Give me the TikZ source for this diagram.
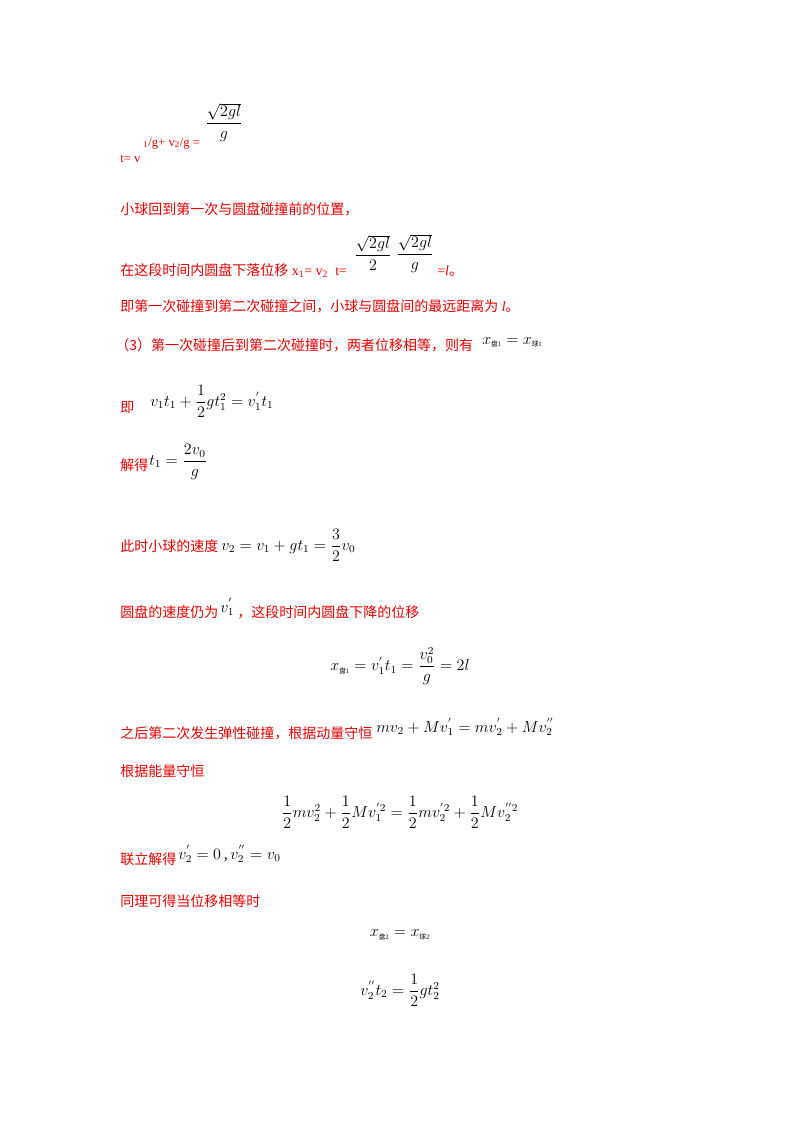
\documentclass[tikz,border=0pt]{standalone}
\usepackage{amsmath}
\usepackage{fontspec}
\setmainfont{Liberation Serif}
\newfontfamily\cjk{Noto Sans CJK SC}
\usetikzlibrary{positioning}
\newcommand{\zh}[1]{{\cjk #1}}
\colorlet{ans}{red!90!black}
\begin{document}
\begin{tikzpicture}[x=0.75pt,y=-0.75pt,
  txt/.style={anchor=base west,inner sep=0pt,text=ans,font=\fontsize{10.5}{12}\selectfont},
  eq/.style={inner sep=0pt,font=\fontsize{12}{14}\selectfont}]
\useasboundingbox (0,0) rectangle (800,1132);
% time of flight
\node[eq] (f0) at (224,122) {$\dfrac{\sqrt{2gl}}{g}$};
\node[txt,font=\fontsize{9.5}{10}\selectfont] (l0) at (143,146) {\textsubscript{1}/g+ v\textsubscript{2}/g =};
\node[txt,font=\fontsize{9.5}{10}\selectfont] (t0) at (120,162) {t= v};
\node[txt] (p1) at (120,214) {\zh{小球回到第一次与圆盘碰撞前的位置，}};
% displacement of disc
\node[eq] (f1) at (373,253) {$\dfrac{\sqrt{2gl}}{2}$};
\node[eq] (f2) at (415,253) {$\dfrac{\sqrt{2gl}}{g}$};
\node[txt] (p2) at (120,275) {\zh{在这段时间内圆盘下落位移} x\textsubscript{1}= v\textsubscript{2}\ \ t=};
\node[txt] (p2b) at (437,275) {=\textit{l}\zh{。}};
\node[txt] (p3) at (120,311) {\zh{即第一次碰撞到第二次碰撞之间，小球与圆盘间的最远距离为} \textit{l}\zh{。}};
% part (3)
\node[txt] (p4) at (115,350) {\zh{（3）第一次碰撞后到第二次碰撞时，两者位移相等，则有}};
\node[eq,anchor=base west] (e4) at (482,344) {$x_{\text{\zh{\tiny 盘}\tiny1}}=x_{\text{\zh{\tiny 球}\tiny1}}$};
\node[txt] (p5) at (120,412) {\zh{即}};
\node[eq,anchor=west] (e5) at (150,401) {$v_1t_1+\dfrac12 gt_1^2=v_1^{'}t_1$};
\node[txt] (p6) at (120,470) {\zh{解得}};
\node[eq,anchor=west] (e6) at (149,462) {$t_1=\dfrac{2v_0}{g}$};
\node[txt] (p7) at (120,551) {\zh{此时小球的速度}};
\node[eq,anchor=west] (e7) at (221,545) {$v_2=v_1+gt_1=\dfrac32 v_0$};
\node[txt] (p8) at (120,617) {\zh{圆盘的速度仍为}};
\node[eq,anchor=base west] (e8) at (220,612) {$v_1^{'}$};
\node[txt] (p8b) at (237,617) {\zh{，这段时间内圆盘下降的位移}};
\node[eq] (e9) at (400,666) {$x_{\text{\zh{\tiny 盘}\tiny1}}=v_1^{'}t_1=\dfrac{v_0^2}{g}=2l$};
\node[txt] (p9) at (120,738) {\zh{之后第二次发生弹性碰撞，根据动量守恒}};
\node[eq,anchor=base west] (e10) at (376,732) {$mv_2+Mv_1^{'}=mv_2^{'}+Mv_2^{''}$};
\node[txt] (p10) at (120,776) {\zh{根据能量守恒}};
\node[eq] (e11) at (400,812) {$\dfrac12 mv_2^2+\dfrac12 Mv_1^{'2}=\dfrac12 mv_2^{'2}+\dfrac12 Mv_2^{''2}$};
\node[txt] (p11) at (120,864) {\zh{联立解得}};
\node[eq,anchor=base west] (e12) at (178,859) {$v_2^{'}=0$\,,$\,v_2^{''}=v_0$};
\node[txt] (p12) at (120,906) {\zh{同理可得当位移相等时}};
\node[eq] (e13) at (400,935) {$x_{\text{\zh{\tiny 盘}\tiny2}}=x_{\text{\zh{\tiny 球}\tiny2}}$};
\node[eq] (e14) at (400,990) {$v_2^{''}t_2=\dfrac12 gt_2^2$};
\end{tikzpicture}
\end{document}
